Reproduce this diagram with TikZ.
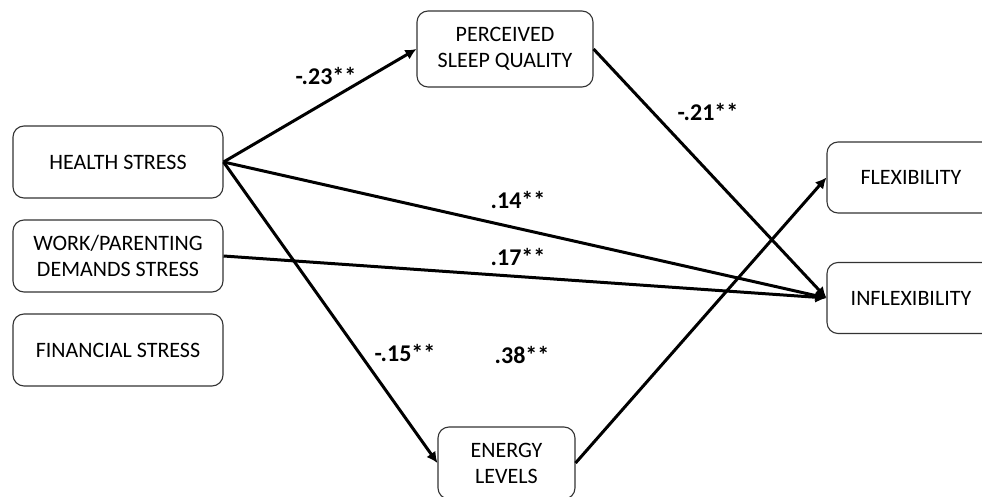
\documentclass[tikz,border=0pt]{standalone}
\usepackage{fontspec}
\setmainfont{Carlito}
\usetikzlibrary{arrows.meta,positioning}
\tikzset{
    factor/.style={draw=black!80, line width=1.1pt, rounded corners=11pt, align=center, inner sep=0pt, font=\fontsize{22}{26}\selectfont},
    stressor/.style={factor, minimum width=210pt, minimum height=72pt},
    mediator/.style={factor, minimum height=76pt},
    outcome/.style={factor, minimum width=168pt, minimum height=71pt},
    effect/.style={line width=3pt, -{Latex[length=11pt,width=11pt]}},
    coef/.style={font=\fontsize{24}{28}\selectfont\bfseries},
}
\begin{document}
\begin{tikzpicture}[x=1pt,y=-1pt]
    \useasboundingbox (0,0) rectangle (982,497);

    % Stressors (left)
    \node[stressor] (health) at (118,162) {HEALTH STRESS};
    \node[stressor] (work) at (118,256) {WORK/PARENTING\\DEMANDS STRESS};
    \node[stressor] (finance) at (118,350) {FINANCIAL STRESS};

    % Mediators
    \node[mediator, minimum width=176pt] (sleep) at (505,49) {PERCEIVED\\SLEEP QUALITY};
    \node[mediator, minimum width=137pt, minimum height=72pt] (energy) at (506.5,463) {ENERGY\\LEVELS};

    % Outcomes (right, cut by the page edge)
    \node[outcome] (flex) at (911,177.5) {FLEXIBILITY};
    \node[outcome] (inflex) at (911,298) {INFLEXIBILITY};

    % Paths
    \draw[effect] (health.east) -- (sleep.west);
    \draw[effect] (health.east) -- (energy.west);
    \draw[effect] (health.east) -- (inflex.west);
    \draw[effect] (work.east) -- (inflex.west);
    \draw[effect] (sleep.east) -- (inflex.west);
    \draw[effect] (energy.east) -- (flex.west);

    % Coefficients
    \node[coef] (c1) at (326,76) {-.23**};
    \node[coef] (c2) at (708,112) {-.21**};
    \node[coef] (c3) at (518,200) {.14**};
    \node[coef] (c4) at (518,257) {.17**};
    \node[coef] (c5) at (405,353) {-.15**};
    \node[coef] (c6) at (522,355) {.38**};
\end{tikzpicture}
\end{document}
